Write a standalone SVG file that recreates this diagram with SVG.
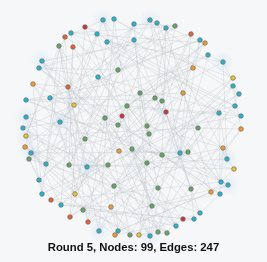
<svg xmlns="http://www.w3.org/2000/svg" width="267" height="262" viewBox="0 0 267 262">
<style>
.bg{fill:#f6f7f8}
#edges path{fill:none;stroke:#b9bfc7;stroke-width:0.55;stroke-opacity:0.55}
.n circle{stroke:#6f6f6f;stroke-width:0.7}
.cy circle{fill:#22b5cc}
.gr circle{fill:#63a563}
.rd circle{fill:#d0313c}
.or circle{fill:#e4602e}
.am circle{fill:#f39a2a}
.ye circle{fill:#efc22f}
.halo{fill:#cfe2f3;opacity:0.45}
.title{font-family:"Liberation Sans",Arial,sans-serif;font-weight:bold;font-size:11.3px;fill:#111;text-anchor:middle}
</style>
<defs><filter id="blur" x="-50%" y="-50%" width="200%" height="200%"><feGaussianBlur stdDeviation="3"/></filter></defs>
<rect class="bg" x="0" y="0" width="267" height="262"/>
<g filter="url(#blur)">
<circle class="halo" cx="26" cy="117" r="7"/><circle class="halo" cx="26" cy="136" r="7"/><circle class="halo" cx="31" cy="153" r="7"/><circle class="halo" cx="42" cy="61" r="7"/><circle class="halo" cx="103" cy="20" r="7"/><circle class="halo" cx="150" cy="20" r="7"/><circle class="halo" cx="223" cy="62" r="7"/><circle class="halo" cx="227" cy="159" r="7"/><circle class="halo" cx="228" cy="185" r="7"/><circle class="halo" cx="150" cy="236" r="7"/><circle class="halo" cx="99" cy="231" r="7"/><circle class="halo" cx="180" cy="153" r="7"/><circle class="halo" cx="60" cy="122" r="7"/><circle class="halo" cx="87" cy="167" r="7"/>
</g>
<g id="edges">
<path d="M103 20L118 70"/><path d="M114 19L127 106"/><path d="M134 24L175 26"/><path d="M85 27L233 78"/><path d="M71 33L235 106"/><path d="M65 37L26 136"/><path d="M97 34L46 164"/><path d="M107 42L75 194"/><path d="M59 46L99 231"/><path d="M73 47L167 233"/><path d="M134 40L149 134"/><path d="M42 61L147 163"/><path d="M39 68L220 194"/><path d="M118 70L65 37"/><path d="M98 77L39 68"/><path d="M33 84L74 105"/><path d="M68 87L166 28"/><path d="M26 100L193 68"/><path d="M50 98L162 101"/><path d="M74 105L23 128"/><path d="M127 106L132 149"/><path d="M26 117L42 194"/><path d="M105 118L88 222"/><path d="M122 116L158 232"/><path d="M150 20L198 128"/><path d="M157 23L227 159"/><path d="M166 28L211 192"/><path d="M175 26L71 33"/><path d="M191 34L42 61"/><path d="M200 40L50 98"/><path d="M205 43L157 23"/><path d="M208 55L223 62"/><path d="M223 62L155 98"/><path d="M193 68L118 125"/><path d="M233 78L119 151"/><path d="M233 86L114 186"/><path d="M239 94L70 217"/><path d="M183 93L150 236"/><path d="M140 93L147 126"/><path d="M155 98L188 152"/><path d="M162 101L191 189"/><path d="M235 106L85 27"/><path d="M219 113L134 40"/><path d="M241 116L26 100"/><path d="M166 112L150 20"/><path d="M60 122L208 55"/><path d="M118 125L140 93"/><path d="M23 128L60 122"/><path d="M26 136L29 159"/><path d="M85 139L39 180"/><path d="M25 147L83 210"/><path d="M31 153L139 235"/><path d="M29 159L200 213"/><path d="M119 151L180 153"/><path d="M132 149L158 188"/><path d="M46 164L134 24"/><path d="M69 165L73 47"/><path d="M87 167L68 87"/><path d="M108 165L122 116"/><path d="M39 180L205 43"/><path d="M114 186L183 93"/><path d="M42 194L166 112"/><path d="M75 194L31 153"/><path d="M51 200L108 165"/><path d="M61 205L111 207"/><path d="M111 207L130 235"/><path d="M83 210L194 219"/><path d="M70 217L162 155"/><path d="M88 222L228 185"/><path d="M99 231L114 19"/><path d="M118 231L59 46"/><path d="M115 235L33 84"/><path d="M130 235L105 118"/><path d="M139 235L200 40"/><path d="M150 236L239 94"/><path d="M158 232L241 116"/><path d="M167 233L25 147"/><path d="M176 226L87 167"/><path d="M183 219L61 205"/><path d="M194 219L115 235"/><path d="M200 213L183 219"/><path d="M147 126L223 148"/><path d="M198 128L221 182"/><path d="M149 134L103 20"/><path d="M241 129L107 42"/><path d="M223 148L98 77"/><path d="M162 155L26 117"/><path d="M180 153L191 34"/><path d="M188 152L233 86"/><path d="M227 159L219 113"/><path d="M147 163L85 139"/><path d="M234 169L69 165"/><path d="M221 182L51 200"/><path d="M228 185L118 231"/><path d="M158 188L176 226"/><path d="M191 189L241 129"/><path d="M211 192L234 169"/><path d="M220 194L152 206"/><path d="M152 206L97 34"/>
<path d="M103 20L65 37"/><path d="M114 19L239 94"/><path d="M134 24L70 217"/><path d="M85 27L152 206"/><path d="M71 33L205 43"/><path d="M65 37L42 194"/><path d="M97 34L221 182"/><path d="M107 42L150 20"/><path d="M59 46L46 164"/><path d="M73 47L162 155"/><path d="M134 40L50 98"/><path d="M42 61L85 139"/><path d="M39 68L200 213"/><path d="M118 70L39 68"/><path d="M98 77L241 116"/><path d="M33 84L150 236"/><path d="M68 87L97 34"/><path d="M26 100L183 93"/><path d="M50 98L88 222"/><path d="M74 105L103 20"/><path d="M127 106L208 55"/><path d="M26 117L75 194"/><path d="M105 118L228 185"/><path d="M122 116L157 23"/><path d="M150 20L69 165"/><path d="M157 23L180 153"/><path d="M166 28L74 105"/><path d="M175 26L25 147"/><path d="M191 34L147 126"/><path d="M200 40L118 70"/><path d="M205 43L166 112"/><path d="M208 55L158 232"/><path d="M223 62L107 42"/><path d="M193 68L140 93"/><path d="M233 78L99 231"/><path d="M233 86L114 19"/><path d="M239 94L223 62"/><path d="M183 93L51 200"/><path d="M140 93L158 188"/><path d="M155 98L166 28"/><path d="M162 101L87 167"/><path d="M235 106L188 152"/><path d="M219 113L127 106"/><path d="M241 116L31 153"/><path d="M166 112L198 128"/><path d="M60 122L98 77"/><path d="M118 125L60 122"/><path d="M23 128L167 233"/><path d="M26 136L59 46"/><path d="M85 139L155 98"/><path d="M25 147L118 231"/><path d="M31 153L134 24"/><path d="M29 159L193 68"/><path d="M119 151L61 205"/><path d="M132 149L191 189"/><path d="M46 164L175 26"/><path d="M69 165L108 165"/><path d="M87 167L227 159"/><path d="M108 165L26 117"/><path d="M39 180L29 159"/><path d="M114 186L149 134"/><path d="M42 194L33 84"/><path d="M75 194L118 125"/><path d="M51 200L176 226"/><path d="M61 205L73 47"/><path d="M111 207L162 101"/><path d="M83 210L115 235"/><path d="M70 217L85 27"/><path d="M88 222L233 78"/><path d="M99 231L111 207"/><path d="M118 231L211 192"/><path d="M115 235L191 34"/><path d="M130 235L39 180"/><path d="M139 235L147 163"/><path d="M150 236L105 118"/><path d="M158 232L119 151"/><path d="M167 233L241 129"/><path d="M176 226L68 87"/><path d="M183 219L23 128"/><path d="M194 219L183 219"/><path d="M200 213L134 40"/><path d="M147 126L235 106"/><path d="M198 128L130 235"/><path d="M149 134L71 33"/><path d="M241 129L233 86"/><path d="M223 148L83 210"/><path d="M162 155L220 194"/><path d="M180 153L200 40"/><path d="M188 152L114 186"/><path d="M227 159L234 169"/><path d="M147 163L122 116"/><path d="M234 169L132 149"/><path d="M221 182L223 148"/><path d="M228 185L26 100"/><path d="M158 188L26 136"/><path d="M191 189L194 219"/><path d="M211 192L42 61"/><path d="M220 194L219 113"/><path d="M152 206L139 235"/>
<path d="M103 20L162 101"/><path d="M134 24L150 236"/><path d="M71 33L73 47"/><path d="M97 34L241 116"/><path d="M59 46L176 226"/><path d="M134 40L39 68"/><path d="M39 68L118 125"/><path d="M98 77L200 213"/><path d="M68 87L33 84"/><path d="M50 98L85 139"/><path d="M127 106L149 134"/><path d="M105 118L50 98"/><path d="M150 20L29 159"/><path d="M166 28L162 155"/><path d="M191 34L26 117"/><path d="M205 43L46 164"/><path d="M223 62L227 159"/><path d="M233 78L150 20"/><path d="M239 94L108 165"/><path d="M140 93L221 182"/><path d="M162 101L175 26"/><path d="M219 113L42 194"/><path d="M166 112L191 189"/><path d="M118 125L205 43"/><path d="M26 136L61 205"/><path d="M25 147L152 206"/><path d="M29 159L51 200"/><path d="M132 149L70 217"/><path d="M69 165L134 24"/><path d="M108 165L83 210"/><path d="M114 186L118 231"/><path d="M75 194L65 37"/><path d="M61 205L155 98"/><path d="M83 210L139 235"/><path d="M88 222L59 46"/><path d="M118 231L219 113"/><path d="M130 235L167 233"/><path d="M150 236L42 61"/><path d="M167 233L60 122"/><path d="M183 219L158 188"/><path d="M200 213L220 194"/><path d="M198 128L26 136"/><path d="M241 129L198 128"/><path d="M162 155L26 100"/><path d="M188 152L31 153"/><path d="M147 163L223 148"/><path d="M221 182L127 106"/><path d="M158 188L132 149"/><path d="M211 192L188 152"/>
</g>
<g id="nodes">
<g id="n0" class="n cy"><circle cx="103" cy="20" r="2.3"/></g>
<g id="n1" class="n cy"><circle cx="114" cy="19" r="2.3"/></g>
<g id="n2" class="n cy"><circle cx="134" cy="24" r="2.3"/></g>
<g id="n3" class="n rd"><circle cx="85" cy="27" r="2.3"/></g>
<g id="n4" class="n cy"><circle cx="71" cy="33" r="2.3"/></g>
<g id="n5" class="n or"><circle cx="65" cy="37" r="2.3"/></g>
<g id="n6" class="n cy"><circle cx="97" cy="34" r="2.3"/></g>
<g id="n7" class="n cy"><circle cx="107" cy="42" r="2.3"/></g>
<g id="n8" class="n gr"><circle cx="59" cy="46" r="2.3"/></g>
<g id="n9" class="n or"><circle cx="73" cy="47" r="2.3"/></g>
<g id="n10" class="n cy"><circle cx="134" cy="40" r="2.3"/></g>
<g id="n11" class="n cy"><circle cx="42" cy="61" r="2.3"/></g>
<g id="n12" class="n cy"><circle cx="39" cy="68" r="2.3"/></g>
<g id="n13" class="n gr"><circle cx="118" cy="70" r="2.3"/></g>
<g id="n14" class="n cy"><circle cx="98" cy="77" r="2.3"/></g>
<g id="n15" class="n am"><circle cx="33" cy="84" r="2.3"/></g>
<g id="n16" class="n or"><circle cx="68" cy="87" r="2.3"/></g>
<g id="n17" class="n cy"><circle cx="26" cy="100" r="2.3"/></g>
<g id="n18" class="n cy"><circle cx="50" cy="98" r="2.3"/></g>
<g id="n19" class="n ye"><circle cx="74" cy="105" r="2.3"/></g>
<g id="n20" class="n gr"><circle cx="127" cy="106" r="2.3"/></g>
<g id="n21" class="n cy"><circle cx="26" cy="117" r="2.3"/></g>
<g id="n22" class="n gr"><circle cx="105" cy="118" r="2.3"/></g>
<g id="n23" class="n rd"><circle cx="122" cy="116" r="2.3"/></g>
<g id="n24" class="n cy"><circle cx="150" cy="20" r="2.3"/></g>
<g id="n25" class="n cy"><circle cx="157" cy="23" r="2.3"/></g>
<g id="n26" class="n cy"><circle cx="166" cy="28" r="2.3"/></g>
<g id="n27" class="n gr"><circle cx="175" cy="26" r="2.3"/></g>
<g id="n28" class="n or"><circle cx="191" cy="34" r="2.3"/></g>
<g id="n29" class="n cy"><circle cx="200" cy="40" r="2.3"/></g>
<g id="n30" class="n am"><circle cx="205" cy="43" r="2.3"/></g>
<g id="n31" class="n cy"><circle cx="208" cy="55" r="2.3"/></g>
<g id="n32" class="n cy"><circle cx="223" cy="62" r="2.3"/></g>
<g id="n33" class="n am"><circle cx="193" cy="68" r="2.3"/></g>
<g id="n34" class="n ye"><circle cx="233" cy="78" r="2.3"/></g>
<g id="n35" class="n cy"><circle cx="233" cy="86" r="2.3"/></g>
<g id="n36" class="n cy"><circle cx="239" cy="94" r="2.3"/></g>
<g id="n37" class="n am"><circle cx="183" cy="93" r="2.3"/></g>
<g id="n38" class="n gr"><circle cx="140" cy="93" r="2.3"/></g>
<g id="n39" class="n gr"><circle cx="155" cy="98" r="2.3"/></g>
<g id="n40" class="n gr"><circle cx="162" cy="101" r="2.3"/></g>
<g id="n41" class="n cy"><circle cx="235" cy="106" r="2.3"/></g>
<g id="n42" class="n cy"><circle cx="219" cy="113" r="2.3"/></g>
<g id="n43" class="n cy"><circle cx="241" cy="116" r="2.3"/></g>
<g id="n44" class="n rd"><circle cx="166" cy="112" r="2.3"/></g>
<g id="n45" class="n cy"><circle cx="60" cy="122" r="2.3"/></g>
<g id="n46" class="n gr"><circle cx="118" cy="125" r="2.3"/></g>
<g id="n47" class="n cy"><circle cx="23" cy="128" r="2.3"/></g>
<g id="n48" class="n ye"><circle cx="26" cy="136" r="2.3"/></g>
<g id="n49" class="n gr"><circle cx="85" cy="139" r="2.3"/></g>
<g id="n50" class="n am"><circle cx="25" cy="147" r="2.3"/></g>
<g id="n51" class="n cy"><circle cx="31" cy="153" r="2.3"/></g>
<g id="n52" class="n gr"><circle cx="29" cy="159" r="2.3"/></g>
<g id="n53" class="n am"><circle cx="119" cy="151" r="2.3"/></g>
<g id="n54" class="n gr"><circle cx="132" cy="149" r="2.3"/></g>
<g id="n55" class="n cy"><circle cx="46" cy="164" r="2.3"/></g>
<g id="n56" class="n gr"><circle cx="69" cy="165" r="2.3"/></g>
<g id="n57" class="n cy"><circle cx="87" cy="167" r="2.3"/></g>
<g id="n58" class="n gr"><circle cx="108" cy="165" r="2.3"/></g>
<g id="n59" class="n cy"><circle cx="39" cy="180" r="2.3"/></g>
<g id="n60" class="n gr"><circle cx="114" cy="186" r="2.3"/></g>
<g id="n61" class="n cy"><circle cx="42" cy="194" r="2.3"/></g>
<g id="n62" class="n ye"><circle cx="75" cy="194" r="2.3"/></g>
<g id="n63" class="n or"><circle cx="51" cy="200" r="2.3"/></g>
<g id="n64" class="n cy"><circle cx="61" cy="205" r="2.3"/></g>
<g id="n65" class="n am"><circle cx="111" cy="207" r="2.3"/></g>
<g id="n66" class="n gr"><circle cx="83" cy="210" r="2.3"/></g>
<g id="n67" class="n or"><circle cx="70" cy="217" r="2.3"/></g>
<g id="n68" class="n or"><circle cx="88" cy="222" r="2.3"/></g>
<g id="n69" class="n cy"><circle cx="99" cy="231" r="2.3"/></g>
<g id="n70" class="n cy"><circle cx="118" cy="231" r="2.3"/></g>
<g id="n71" class="n am"><circle cx="115" cy="235" r="2.3"/></g>
<g id="n72" class="n gr"><circle cx="130" cy="235" r="2.3"/></g>
<g id="n73" class="n ye"><circle cx="139" cy="235" r="2.3"/></g>
<g id="n74" class="n cy"><circle cx="150" cy="236" r="2.3"/></g>
<g id="n75" class="n gr"><circle cx="158" cy="232" r="2.3"/></g>
<g id="n76" class="n gr"><circle cx="167" cy="233" r="2.3"/></g>
<g id="n77" class="n cy"><circle cx="176" cy="226" r="2.3"/></g>
<g id="n78" class="n rd"><circle cx="183" cy="219" r="2.3"/></g>
<g id="n79" class="n cy"><circle cx="194" cy="219" r="2.3"/></g>
<g id="n80" class="n cy"><circle cx="200" cy="213" r="2.3"/></g>
<g id="n81" class="n gr"><circle cx="147" cy="126" r="2.3"/></g>
<g id="n82" class="n gr"><circle cx="198" cy="128" r="2.3"/></g>
<g id="n83" class="n gr"><circle cx="149" cy="134" r="2.3"/></g>
<g id="n84" class="n am"><circle cx="241" cy="129" r="2.3"/></g>
<g id="n85" class="n am"><circle cx="223" cy="148" r="2.3"/></g>
<g id="n86" class="n gr"><circle cx="162" cy="155" r="2.3"/></g>
<g id="n87" class="n cy"><circle cx="180" cy="153" r="2.3"/></g>
<g id="n88" class="n gr"><circle cx="188" cy="152" r="2.3"/></g>
<g id="n89" class="n cy"><circle cx="227" cy="159" r="2.3"/></g>
<g id="n90" class="n gr"><circle cx="147" cy="163" r="2.3"/></g>
<g id="n91" class="n ye"><circle cx="234" cy="169" r="2.3"/></g>
<g id="n92" class="n cy"><circle cx="221" cy="182" r="2.3"/></g>
<g id="n93" class="n cy"><circle cx="228" cy="185" r="2.3"/></g>
<g id="n94" class="n gr"><circle cx="158" cy="188" r="2.3"/></g>
<g id="n95" class="n gr"><circle cx="191" cy="189" r="2.3"/></g>
<g id="n96" class="n am"><circle cx="211" cy="192" r="2.3"/></g>
<g id="n97" class="n cy"><circle cx="220" cy="194" r="2.3"/></g>
<g id="n98" class="n gr"><circle cx="152" cy="206" r="2.3"/></g>
</g>
<text class="title" x="133.5" y="251">Round 5, Nodes: 99, Edges: 247</text>
</svg>
